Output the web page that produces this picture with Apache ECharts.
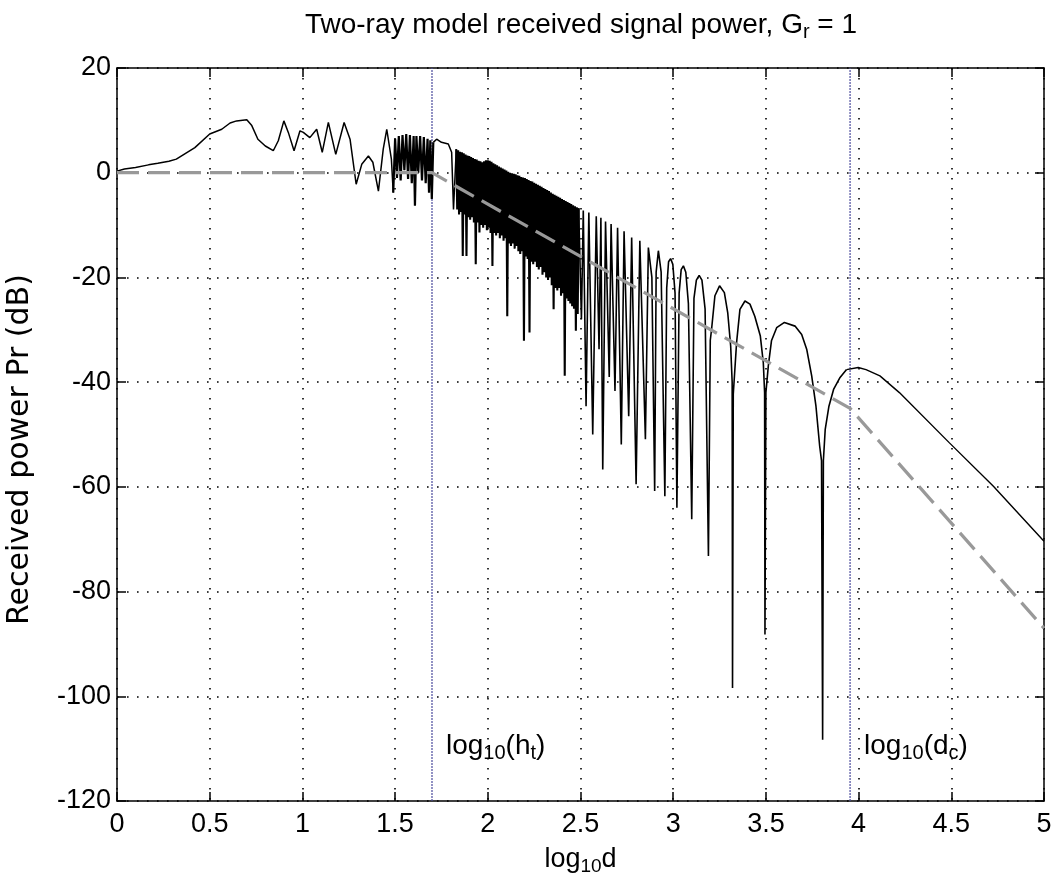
<!DOCTYPE html>
<html><head><meta charset="utf-8">
<script src="https://cdn.jsdelivr.net/npm/echarts@6/dist/echarts.min.js"></script>
<style>html,body{margin:0;padding:0;background:#fff}#c{width:1053px;height:886px}</style>
</head><body><div id="c"></div>
<script>
// ---------- data ----------
const xMin = 0, xMax = 5, xStep = 0.5;
const yMin = -120, yMax = 20, yStep = 20;

// log10 of transmitter height and critical distance (vertical markers)
const logHt = 1.699;
const logDc = 3.954;

// two-ray received power, near field (smooth, then first ripples)
const nearFieldPts = [
  [0.0,0.3],[0.04,0.7],[0.10,1.0],[0.17,1.5],[0.22,1.8],[0.28,2.2],[0.32,2.6],[0.37,3.7],
  [0.42,4.8],[0.50,7.4],[0.565,8.3],[0.61,9.5],[0.645,9.9],[0.70,10.1],[0.727,9.0],[0.76,6.4],
  [0.80,5.1],[0.843,4.2],[0.87,6.1],[0.90,9.9],[0.924,7.7],[0.955,4.2],[0.987,8.0],[1.005,7.7],
  [1.04,6.7],[1.077,8.3],[1.107,3.9],[1.14,9.6],[1.18,3.5],[1.225,9.6],[1.257,6.4],[1.29,-2.2],
  [1.32,1.6],[1.356,3.2],[1.38,2.0],[1.41,-3.5],[1.436,4.5],[1.455,8.3],[1.48,2.6],[1.49,-3.8]
];

// dense ripples just before log10(ht)
const denseBeforeHt = [
  [1.49,-3.8],[1.50,6.5],[1.51,-1.0],[1.52,7.0],[1.53,-1.5],[1.54,7.2],[1.55,0.5],[1.56,7.4],[1.57,-1.2],
  [1.58,7.2],[1.59,-2.0],[1.60,7.0],[1.607,-6.3],[1.615,7.0],[1.625,0.0],[1.635,7.0],[1.645,-1.5],
  [1.655,6.8],[1.665,-2.0],[1.675,6.5],[1.683,-3.8],[1.69,6.2],[1.698,-5.0],[1.706,5.8]
];

// smooth hump just after log10(ht)
const afterHtPts = [
  [1.706,5.8],[1.724,6.4],[1.75,5.8],[1.787,5.5],[1.805,3.9],[1.815,-7.0],[1.830,4.5]
];

// dense ripple band 1.83 .. 2.49 (peaks and nulls)
const denseBand = [
  [1.830,4.5],[1.835,-7],[1.840,4.3],[1.845,-8],[1.850,4.0],[1.855,-7.5],[1.860,3.9],[1.865,-15.9],
  [1.870,3.7],[1.875,-8],[1.880,3.5],[1.885,-15.9],[1.890,3.3],[1.895,-8.5],[1.900,3.2],[1.905,-9],
  [1.910,3.0],[1.915,-8.5],[1.920,2.8],[1.925,-9.5],[1.930,2.6],[1.935,-17.5],[1.940,2.5],[1.945,-9.5],
  [1.950,2.3],[1.955,-11.4],[1.960,2.2],[1.965,-10],[1.970,2.0],[1.975,-10.5],[1.980,2.2],[1.985,-10],
  [1.990,2.4],[1.995,-11],[2.000,2.4],[2.005,-10.5],[2.010,2.3],[2.015,-11.5],[2.020,2.1],[2.025,-17.8],
  [2.030,1.8],[2.035,-11.5],[2.040,1.6],[2.045,-12],[2.050,1.4],[2.055,-11.5],[2.060,1.2],[2.065,-12.5],
  [2.070,1.0],[2.075,-12],[2.080,0.8],[2.085,-13],[2.090,0.6],[2.095,-12.5],[2.100,0.4],[2.105,-27.4],
  [2.110,0.2],[2.115,-13.5],[2.120,0.0],[2.125,-14],[2.130,-0.1],[2.135,-13.5],[2.140,-0.2],[2.145,-14.5],
  [2.150,-0.3],[2.155,-14],[2.160,-0.5],[2.165,-15],[2.170,-0.6],[2.175,-15.5],[2.180,-0.8],[2.185,-15],
  [2.190,-0.9],[2.195,-32.1],[2.200,-1.0],[2.205,-16],[2.210,-1.2],[2.215,-16.5],[2.220,-1.4],[2.225,-30.5],
  [2.230,-1.6],[2.235,-17],[2.240,-1.7],[2.245,-17.5],[2.250,-1.9],[2.255,-17],[2.260,-2.1],[2.265,-18],
  [2.270,-2.3],[2.275,-18.5],[2.280,-2.5],[2.285,-18],[2.290,-2.7],[2.295,-19.5],[2.300,-2.9],[2.305,-19],
  [2.310,-3.1],[2.315,-20],[2.320,-3.3],[2.325,-20.5],[2.330,-3.5],[2.335,-20],[2.340,-3.8],[2.345,-21.5],
  [2.350,-4.0],[2.355,-26.1],[2.360,-4.2],[2.365,-22],[2.370,-4.4],[2.375,-22.5],[2.380,-4.6],[2.385,-22],
  [2.390,-4.8],[2.395,-23.5],[2.400,-5.0],[2.405,-23],[2.410,-5.2],[2.415,-38.8],[2.420,-5.4],[2.425,-24],
  [2.430,-5.6],[2.435,-24.5],[2.440,-5.8],[2.445,-25],[2.450,-6.0],[2.455,-25.5],[2.460,-6.2],[2.465,-26],
  [2.470,-6.4],[2.475,-30.2],[2.480,-6.6],[2.485,-27],[2.490,-6.8]
];

// separated lobes 2.5 .. 4 with deep nulls
const lobePts = [
  [2.490,-6.8],
  [2.505,-28],[2.515,-7.2],[2.53,-44.6],[2.545,-7.6],[2.566,-50],[2.585,-8.3],[2.60,-33.7],[2.61,-8.6],
  [2.62,-56.7],[2.635,-9.3],[2.655,-39],[2.665,-9.8],[2.686,-41.7],[2.70,-10.5],[2.72,-51.9],[2.735,-11.2],
  [2.76,-46.5],[2.776,-12.4],[2.80,-59.5],[2.82,-13.0],[2.85,-50.9],[2.866,-14.3],[2.885,-20],[2.90,-60.8],
  [2.908,-19],[2.92,-14.9],[2.935,-19],[2.955,-61.8],[2.965,-22],[2.975,-17],[2.986,-16.4],[2.998,-17.5],
  [3.01,-23],[3.02,-64],[3.032,-23],[3.043,-18.5],[3.055,-17.8],[3.068,-19],[3.082,-25],[3.10,-66.2],
  [3.112,-24],[3.125,-20.5],[3.14,-19.6],[3.155,-20.5],[3.172,-26],[3.19,-73.2],[3.20,-32],[3.207,-29.9],
  [3.225,-23.5],[3.25,-21.6],[3.276,-22.9],[3.294,-26.7],[3.31,-33.1],[3.318,-40],[3.32,-98.4],[3.324,-42.3],
  [3.342,-32.4],[3.36,-26.1],[3.387,-24.5],[3.414,-25.1],[3.44,-27.4],[3.47,-31.2],[3.486,-36.3],[3.493,-42],
  [3.495,-88.2],[3.50,-42],[3.513,-36.9],[3.53,-32.1],[3.558,-29.6],[3.60,-28.6],[3.657,-29.3],[3.693,-30.9],
  [3.72,-33.7],[3.747,-38.8],[3.77,-44.6],[3.79,-52.2],[3.80,-55],[3.806,-108.3],[3.81,-55],[3.82,-49],
  [3.84,-44.6],[3.865,-41.4],[3.90,-39.1],[3.935,-37.6]
];

// far field beyond the critical distance
const farFieldPts = [
  [3.935,-37.6],[3.998,-37.2],[4.04,-37.6],[4.115,-38.8],[4.22,-42],[4.49,-51.6],[4.727,-59.9],[5.0,-70.4]
];

// piecewise-linear approximation (grey dashed)
const approxPts = [[0,0],[1.699,0],[3.954,-45],[5,-87]];

const titleText = '{m|Two-ray model received signal power, G}{s|r}{m| = 1}';
const xName = '{m|log}{s|10}{m|d}';
const yName = 'Received power Pr (dB)';
const htLabel = '{m|log}{s|10}{m|(h}{s|t}{m|)}';
const dcLabel = '{m|log}{s|10}{m|(d}{s|c}{m|)}';

// ---------- chart ----------
const FONT = '"Liberation Sans", Arial, Helvetica, sans-serif';
const titleRich = {
  m: {fontSize: 28, fontFamily: FONT, fontWeight: 'normal', color: '#000', lineHeight: 34},
  s: {fontSize: 20, fontFamily: FONT, fontWeight: 'normal', color: '#000', lineHeight: 34, padding: [14, 0, 0, 0]}
};
const rich = {
  m: {fontSize: 27, fontFamily: FONT, fontWeight: 'normal', color: '#000', lineHeight: 34},
  s: {fontSize: 19, fontFamily: FONT, fontWeight: 'normal', color: '#000', lineHeight: 34, padding: [14, 0, 0, 0]}
};
const labelRich = {
  m: {fontSize: 28, fontFamily: FONT, color: '#000', lineHeight: 34},
  s: {fontSize: 20, fontFamily: FONT, color: '#000', lineHeight: 34, padding: [14, 0, 0, 0]}
};

const gridLine = {show: true, lineStyle: {color: '#000', width: 1.6, type: [1.6, 8.4]}};
const axisCommon = {
  axisLine: {show: true, onZero: false, lineStyle: {color: '#000', width: 1.5}},
  axisTick: {show: true, inside: true, length: 9, lineStyle: {color: '#000', width: 1.5}},
};

function curveSeries(name, data, width) {
  return {
    type: 'line', name: name, xAxisIndex: 0, yAxisIndex: 0, symbol: 'none', showSymbol: false,
    sampling: null, data: data, lineStyle: {color: '#000', width: width}, z: 4, silent: true
  };
}

const chart = echarts.init(document.getElementById('c'), null, {renderer: 'canvas'});
chart.setOption({
  animation: false,
  backgroundColor: '#fff',
  title: {
    text: titleText, left: 576, top: 3, textAlign: 'center',
    textStyle: {fontWeight: 'normal', rich: titleRich}
  },
  grid: {left: 117, right: 9, top: 68, bottom: 85, containLabel: false, outerBoundsMode: 'none'},
  xAxis: [
    Object.assign({
      type: 'value', min: xMin, max: xMax, interval: xStep, position: 'bottom',
      name: xName, nameLocation: 'middle', nameGap: 38, nameTextStyle: {rich: rich},
      axisLabel: {color: '#000', fontSize: 27, fontFamily: FONT, margin: 10},
      splitLine: gridLine
    }, axisCommon),
    Object.assign({
      type: 'value', min: xMin, max: xMax, interval: xStep, position: 'top',
      axisLabel: {show: false}, splitLine: {show: false}
    }, axisCommon)
  ],
  yAxis: [
    Object.assign({
      type: 'value', min: yMin, max: yMax, interval: yStep, position: 'left',
      name: yName, nameLocation: 'middle', nameGap: 82,
      nameTextStyle: {color: '#000', fontSize: 30, fontFamily: '"DejaVu Sans", sans-serif',
        padding: [0, 30, 0, 0]},
      axisLabel: {color: '#000', fontSize: 27, fontFamily: FONT, margin: 6},
      splitLine: gridLine
    }, axisCommon),
    Object.assign({
      type: 'value', min: yMin, max: yMax, interval: yStep, position: 'right',
      axisLabel: {show: false}, splitLine: {show: false}
    }, axisCommon)
  ],
  series: [
    {
      type: 'line', name: 'ht', xAxisIndex: 0, yAxisIndex: 0, symbol: 'none', silent: true,
      data: [[logHt, yMin], [logHt, yMax]],
      lineStyle: {color: '#4a4a9c', width: 1.2, type: [2, 1]}, z: 3
    },
    {
      type: 'line', name: 'dc', xAxisIndex: 0, yAxisIndex: 0, symbol: 'none', silent: true,
      data: [[logDc, yMin], [logDc, yMax]],
      lineStyle: {color: '#4a4a9c', width: 1.2, type: [2, 1]}, z: 3
    },
    curveSeries('near', nearFieldPts, 1.5),
    curveSeries('dense1', denseBeforeHt, 2.2),
    curveSeries('afterHt', afterHtPts, 1.5),
    curveSeries('dense2', denseBand, 2.1),
    curveSeries('lobes', lobePts, 1.6),
    curveSeries('far', farFieldPts, 1.4),
    {
      type: 'line', name: 'approx', xAxisIndex: 0, yAxisIndex: 0, symbol: 'none', silent: true,
      data: approxPts, lineStyle: {color: '#999', width: 3.2, type: [22, 9]}, z: 5
    },
    {
      type: 'scatter', name: 'labels', symbolSize: 0, silent: true, z: 6,
      itemStyle: {opacity: 1},
      data: [
        {value: [logHt, -109.5], label: {formatter: htLabel}},
        {value: [logDc, -109.5], label: {formatter: dcLabel}}
      ],
      label: {show: true, position: 'right', distance: 14, color: '#000', opacity: 1, rich: labelRich}
    }
  ]
});
</script></body></html>
